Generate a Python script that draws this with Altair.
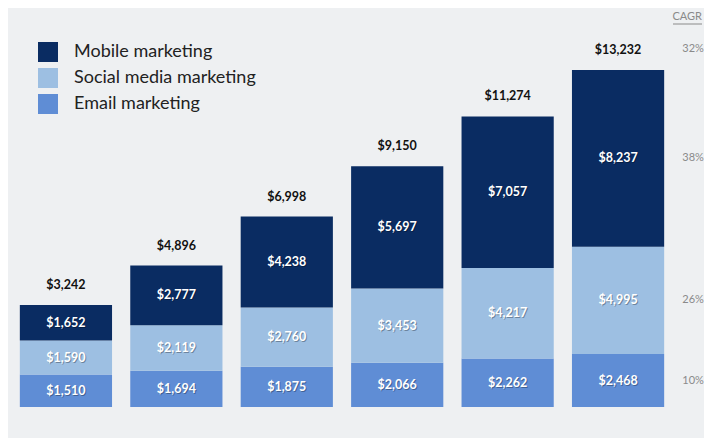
import altair as alt
import pandas as pd

years = ["2011", "2012", "2013", "2014", "2015", "2016"]
email = [1510, 1694, 1875, 2066, 2262, 2468]
social = [1590, 2119, 2760, 3453, 4217, 4995]
mobile = [1652, 2777, 4238, 5697, 7057, 8237]
totals = [3242, 4896, 6998, 9150, 11274, 13232]

series_names = ["Mobile marketing", "Social media marketing", "Email marketing"]
series_colors = ["#0a2c62", "#9dbfe2", "#5f8dd5"]
cagr_series = ["38%", "26%", "10%"]
cagr_total = "32%"

FONT = "Lato"

# long table (email bottom, social middle, mobile top)
rows = []
for i, y in enumerate(years):
    base = 0
    for ord_, (name, vals) in enumerate(
        [("Email marketing", email), ("Social media marketing", social), ("Mobile marketing", mobile)]
    ):
        v = vals[i]
        rows.append({"year": y, "series": name, "value": v, "ord": ord_,
                     "mid": base + v / 2, "label": f"${v:,}"})
        base += v
long = pd.DataFrame(rows)

tot = pd.DataFrame({
    "year": years,
    "top": [e + s + m for e, s, m in zip(email, social, mobile)],
    "label": [f"${t:,}" for t in totals],
})

last = long[long["year"] == years[-1]].copy()
name_to_cagr = dict(zip(series_names, cagr_series))
last["cagr"] = last["series"].map(name_to_cagr)
cagr_tot_df = pd.DataFrame({"year": [years[-1]], "top": [tot["top"].iloc[-1]], "cagr": [cagr_total]})

ydom = [0, 18590]
xscale = alt.Scale(domain=years, paddingInner=0.165, paddingOuter=0.08)
yscale = alt.Scale(domain=ydom, nice=False, zero=True)

bars = alt.Chart(long).mark_bar().encode(
    x=alt.X("year:N", scale=xscale, title=None,
            axis=alt.Axis(labelAngle=0, ticks=False, domainColor="#111", domainWidth=1.5,
                          labelFontSize=11, labelPadding=8, labelColor="#222", labelFont=FONT)),
    y=alt.Y("value:Q", stack="zero", scale=yscale, axis=None, title=None),
    color=alt.Color("series:N", scale=alt.Scale(domain=series_names, range=series_colors),
                    legend=alt.Legend(title=None, orient="none", legendX=27, legendY=34,
                                      symbolType="square", symbolSize=400, symbolStrokeWidth=0,
                                      labelFontSize=18, labelFont=FONT, labelColor="#222",
                                      labelLimit=0, rowPadding=6, labelOffset=16, padding=0)),
    order=alt.Order("ord:Q", sort="ascending"),
)

seg_enc = dict(
    x=alt.X("year:N", scale=xscale, axis=None, title=None),
    y=alt.Y("mid:Q", scale=yscale, axis=None, title=None),
    text="label:N",
)
seg_shadow = alt.Chart(long).mark_text(font=FONT, fontSize=12.5, fontWeight="bold", color="#000",
                                       opacity=0.3, dx=1, dy=1, baseline="middle").encode(**seg_enc)
seg_text = alt.Chart(long).mark_text(font=FONT, fontSize=12.5, fontWeight="bold", color="#ffffff",
                                     baseline="middle").encode(**seg_enc)

tot_text = alt.Chart(tot).mark_text(font=FONT, fontSize=12.5, fontWeight="bold", color="#111",
                                    dy=-20, baseline="middle").encode(
    x=alt.X("year:N", scale=xscale, axis=None, title=None),
    y=alt.Y("top:Q", scale=yscale, axis=None, title=None),
    text="label:N",
)

cagr_seg = alt.Chart(last).mark_text(font=FONT, fontSize=11, color="#8a8a8a", dx=75,
                                     baseline="middle").encode(
    x=alt.X("year:N", scale=xscale, axis=None, title=None),
    y=alt.Y("mid:Q", scale=yscale, axis=None, title=None),
    text="cagr:N",
)
cagr_top = alt.Chart(cagr_tot_df).mark_text(font=FONT, fontSize=11, color="#8a8a8a", dx=75, dy=-21,
                                            baseline="middle").encode(
    x=alt.X("year:N", scale=xscale, axis=None, title=None),
    y=alt.Y("top:Q", scale=yscale, axis=None, title=None),
    text="cagr:N",
)

hdr = alt.Chart(pd.DataFrame({"t": ["CAGR"]})).mark_text(
    font=FONT, fontSize=11, color="#8a8a8a", align="right", baseline="middle"
).encode(x=alt.value(691), y=alt.value(9), text="t:N")
hdr_line = alt.Chart(pd.DataFrame({"t": ["CAGR"]})).mark_rule(color="#8a8a8a", strokeWidth=1).encode(
    x=alt.value(662), x2=alt.value(691), y=alt.value(16)
)

chart = alt.layer(bars, seg_shadow, seg_text, tot_text, cagr_seg, cagr_top, hdr, hdr_line).properties(
    width=662, height=399,
    autosize=alt.AutoSizeParams(type="none"),
    padding={"left": 3, "top": 0, "right": 31, "bottom": 31},
    background="#eef0f2",
).configure_view(stroke=None)

chart.save("out.html", embed_options={"renderer": "svg", "actions": False})
